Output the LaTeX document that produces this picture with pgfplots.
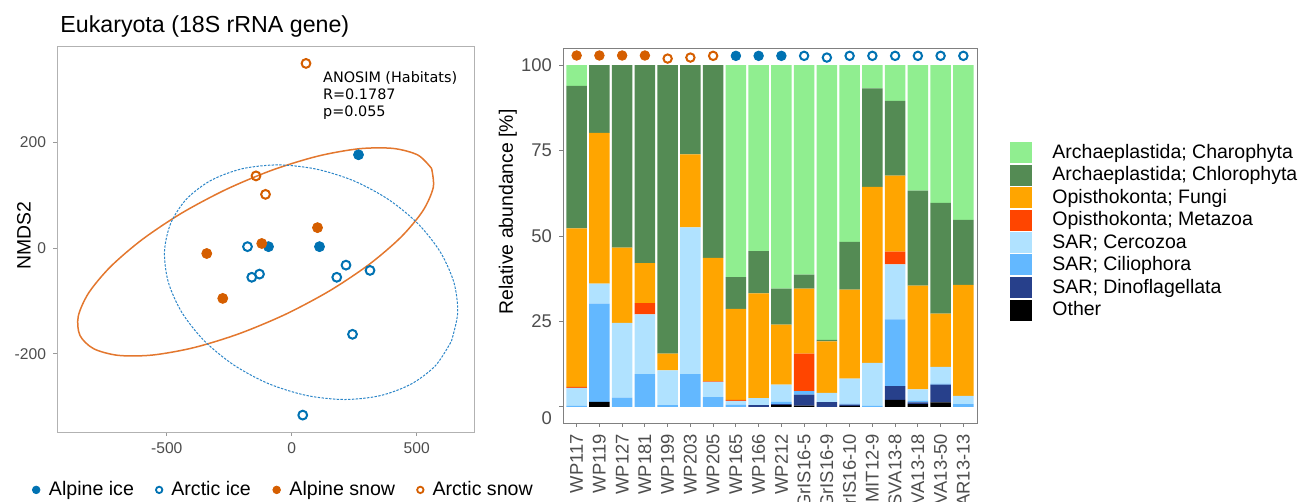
\documentclass[border=0pt]{standalone}
\usepackage{fontspec}
\setmainfont{Liberation Sans}
\newfontfamily\verd{DejaVu Sans}
\usepackage{pgfplots}
\usepackage{pgfplotstable}
\pgfplotsset{compat=1.18}

\definecolor{iceblue}{HTML}{0072B2}
\definecolor{snoworange}{HTML}{D55E00}
\definecolor{ellorange}{HTML}{E3772E}
\definecolor{ellblue}{HTML}{2C86C8}
\definecolor{tickgray}{HTML}{4D4D4D}
\definecolor{cCharo}{HTML}{90EE90}
\definecolor{cChloro}{HTML}{548B54}
\definecolor{cFungi}{HTML}{FFA500}
\definecolor{cMeta}{HTML}{FF4500}
\definecolor{cCerco}{HTML}{B0E2FF}
\definecolor{cCilio}{HTML}{63B8FF}
\definecolor{cDino}{HTML}{27408B}
\definecolor{cOther}{HTML}{000000}

% relative abundance per sample, bottom to top of the stack
\pgfplotstableread{
idx Other Dino Cilio Cerco Meta Fungi Chloro Charo
1   0     0    0.3   5.3   0.3  46.3  41.7   6.1
2   1.5   0    28.7  5.9   0    44.1  19.8   0
3   0     0    2.7   21.9  0    22.0  53.4   0
4   0     0    9.6   17.5  3.3  11.7  57.9   0
5   0     0    0.5   10.2  0    4.9   84.4   0
6   0     0    9.6   42.9  0    21.4  26.1   0
7   0     0    2.9   4.4   0.2  36.1  56.4   0
8   0     0    0.7   1.1   0.3  26.6  9.3    62.0
9   0     0.5  0     2.1   0    30.6  12.4   54.4
10  0.5   0.3  0.7   5.0   0    17.6  10.5   65.4
11  0.4   3.2  1.0   0     11.0 19.0  4.1    61.3
12  0     1.4  0     2.7   0    15.1  0.4    80.4
13  0.3   0.4  0.3   7.3   0    26.0  14.0   51.7
14  0     0    0.3   12.6  0    51.5  28.8   6.8
15  2.1   4.0  19.5  16.1  3.7  22.3  21.8   10.5
16  0.8   0.5  0.5   3.3   0    30.4  27.8   36.7
17  1.3   5.2  0.3   4.9   0    15.6  32.4   40.3
18  0     0    0.8   2.4   0    32.5  19.0   45.3
}\bardata

\pgfplotsset{boxleg/.style={legend image code/.code={\fill[##1] (0pt,-5.25pt) rectangle (11pt,5.25pt);}}}

\begin{document}
\begin{tikzpicture}[x=1pt,y=1pt]
\path[use as bounding box] (0,0) rectangle (650,251);

\node[anchor=base west, inner sep=0pt, font=\fontsize{11.6}{13}\selectfont] at (30,234.5) {Eukaryota (18S rRNA gene)};

% ---------- NMDS panel ----------
\begin{axis}[
  at={(28.5pt,35pt)}, anchor=south west,
  width=208.5pt, height=193pt, scale only axis,
  xmin=-939, xmax=729, ymin=-348, ymax=383,
  xtick={-500,0,500}, xticklabels={-500,0,500},
  ytick={-200,0,200}, yticklabels={-200,0,200},
  tick pos=left, tick align=outside, major tick length=2pt,
  axis line style={draw=black!30},
  tick style={black!40, line width=0.5pt},
  ticklabel style={font=\fontsize{7.8}{9}\selectfont, text=tickgray},
  ylabel={NMDS2},
  ylabel style={font=\fontsize{9.7}{11}\selectfont, at={(axis description cs:-0.079,0.508)}, anchor=center},
  legend columns=4,
  legend style={draw=none, fill=none, at={(-0.06,-0.15)}, anchor=west,
    font=\fontsize{9.8}{11}\selectfont, inner sep=0pt,
    /tikz/every odd column/.append style={column sep=2.5pt},
    /tikz/every even column/.append style={column sep=9pt}},
]
\addplot[smooth, ellorange, line width=0.75pt, forget plot] coordinates {
 (559.3,151.1) (504.7,176.4) (405.7,189.0) (269.5,188.4) (104.9,174.5) (-76.7,148.2)
 (-262.7,111.3) (-440.7,66.4) (-598.5,16.4) (-725.2,-35.1) (-812.4,-84.7) (-854.0,-129.0)
 (-847.3,-165.0) (-792.7,-190.2) (-693.7,-202.9) (-557.5,-202.3) (-392.9,-188.4) (-211.3,-162.0)
 (-25.3,-125.2) (152.7,-80.3) (310.5,-30.3) (437.2,21.2) (524.4,70.8) (566.0,115.2) (559.3,151.1)};
\addplot[smooth, ellblue, line width=0.5pt, dash pattern=on 1.2pt off 0.7pt, forget plot] coordinates {
 (638.7,-176.0) (663.7,-122.5) (648.8,-65.1) (594.8,-7.6) (505.7,46.1) (387.3,92.2)
 (247.9,127.7) (96.7,150.0) (-55.6,157.8) (-199.1,150.4) (-323.5,128.4) (-420.8,93.3)
 (-484.0,47.3) (-509.1,-6.2) (-494.1,-63.7) (-440.1,-121.2) (-351.1,-174.8) (-232.7,-220.9)
 (-93.2,-256.4) (58.0,-278.7) (210.3,-286.5) (353.7,-279.2) (478.1,-257.1) (575.5,-222.0) (638.7,-176.0)};
% Alpine ice
\addplot[only marks, mark=*, mark size=2.5pt, iceblue, forget plot] coordinates {
 (267,177) (-93,3) (111,3)};
% Arctic ice
\addplot[only marks, mark=o, mark size=2.2pt, line width=1pt, iceblue, forget plot] coordinates {
 (-177,3) (-160,-55) (-129,-49) (180,-55) (217,-32) (313,-42) (243,-163) (44,-316)};
% Alpine snow
\addplot[only marks, mark=*, mark size=2.5pt, snoworange, forget plot] coordinates {
 (-340,-10) (-120,9) (103,39) (-276,-95)};
% Arctic snow
\addplot[only marks, mark=o, mark size=2.2pt, line width=1pt, snoworange, forget plot] coordinates {
 (57,350) (-143,137) (-105,102)};

\addlegendimage{only marks, mark=*, mark size=1.9pt, iceblue}
\addlegendentry{Alpine ice}
\addlegendimage{only marks, mark=o, mark size=1.6pt, line width=0.9pt, iceblue}
\addlegendentry{Arctic ice}
\addlegendimage{only marks, mark=*, mark size=1.9pt, snoworange}
\addlegendentry{Alpine snow}
\addlegendimage{only marks, mark=o, mark size=1.6pt, line width=0.9pt, snoworange}
\addlegendentry{Arctic snow}

\node[anchor=north west, align=left, inner sep=0pt,
      font=\verd\fontsize{7.2}{8.5}\selectfont] at (axis cs:124,336)
  {ANOSIM (Habitats)\\R=0.1787\\p=0.055};
\end{axis}

% ---------- composition panel ----------
\begin{axis}[
  at={(281.5pt,39.5pt)}, anchor=south west,
  width=207pt, height=187.5pt, scale only axis,
  ybar stacked, bar width=0.9,
  xmin=0.4, xmax=18.6, ymin=-4.7, ymax=105,
  xtick={1,...,18},
  xticklabels={WP117,WP119,WP127,WP181,WP199,WP203,WP205,WP165,WP166,WP212,GrIS16-5,GrIS16-9,GrIS16-10,MIT12-9,SVA13-8,SVA13-18,SVA13-50,AR13-13},
  xticklabel style={rotate=90, anchor=east},
  ytick={25,50,75,100}, yticklabels={25,50,75,100},
  extra y ticks={0}, extra y tick labels={0},
  extra y tick style={yticklabel style={yshift=-5.5pt}},
  tick pos=left, tick align=outside, major tick length=2pt,
  axis line style={draw=black!50},
  tick style={black!50, line width=0.5pt},
  ticklabel style={font=\fontsize{9.2}{11}\selectfont, text=tickgray},
  ylabel={Relative abundance [\%]},
  ylabel style={font=\fontsize{9.7}{11}\selectfont, at={(axis description cs:-0.133,0.563)}, anchor=center},
  reverse legend,
  legend cell align=left,
  legend style={draw=none, fill=none, at={(1.0797,0.755)}, anchor=north west,
    font=\fontsize{9.75}{11}\selectfont, inner sep=0pt, row sep=-1.3pt,
    /tikz/every odd column/.append style={column sep=8pt}},
]
\addplot[fill=cOther, draw=none, boxleg] table[x=idx, y=Other] {\bardata};
\addlegendentry{Other}
\addplot[fill=cDino, draw=none, boxleg] table[x=idx, y=Dino] {\bardata};
\addlegendentry{SAR; Dinoflagellata}
\addplot[fill=cCilio, draw=none, boxleg] table[x=idx, y=Cilio] {\bardata};
\addlegendentry{SAR; Ciliophora}
\addplot[fill=cCerco, draw=none, boxleg] table[x=idx, y=Cerco] {\bardata};
\addlegendentry{SAR; Cercozoa}
\addplot[fill=cMeta, draw=none, boxleg] table[x=idx, y=Meta] {\bardata};
\addlegendentry{Opisthokonta; Metazoa}
\addplot[fill=cFungi, draw=none, boxleg] table[x=idx, y=Fungi] {\bardata};
\addlegendentry{Opisthokonta; Fungi}
\addplot[fill=cChloro, draw=none, boxleg] table[x=idx, y=Chloro] {\bardata};
\addlegendentry{Archaeplastida; Chlorophyta}
\addplot[fill=cCharo, draw=none, boxleg] table[x=idx, y=Charo] {\bardata};
\addlegendentry{Archaeplastida; Charophyta}
\end{axis}

% habitat markers above the bars
\begin{axis}[
  at={(281.5pt,39.5pt)}, anchor=south west,
  width=207pt, height=187.5pt, scale only axis,
  xmin=0.4, xmax=18.6, ymin=-4.7, ymax=105,
  hide axis, clip=false,
]
\addplot[only marks, mark=*, mark size=2.4pt, snoworange] coordinates {
 (1,102.8) (2,102.8) (3,102.8) (4,102.8)};
\addplot[only marks, mark=o, mark size=2.1pt, line width=1pt, snoworange] coordinates {
 (5,101.9) (6,102.2) (7,102.7)};
\addplot[only marks, mark=*, mark size=2.4pt, iceblue] coordinates {
 (8,102.7) (9,102.7) (10,102.7)};
\addplot[only marks, mark=o, mark size=2.1pt, line width=1pt, iceblue] coordinates {
 (11,102.7) (12,102.2) (13,102.7) (14,102.7) (15,102.7) (16,102.7) (17,102.7) (18,102.7)};
\end{axis}
\end{tikzpicture}
\end{document}
